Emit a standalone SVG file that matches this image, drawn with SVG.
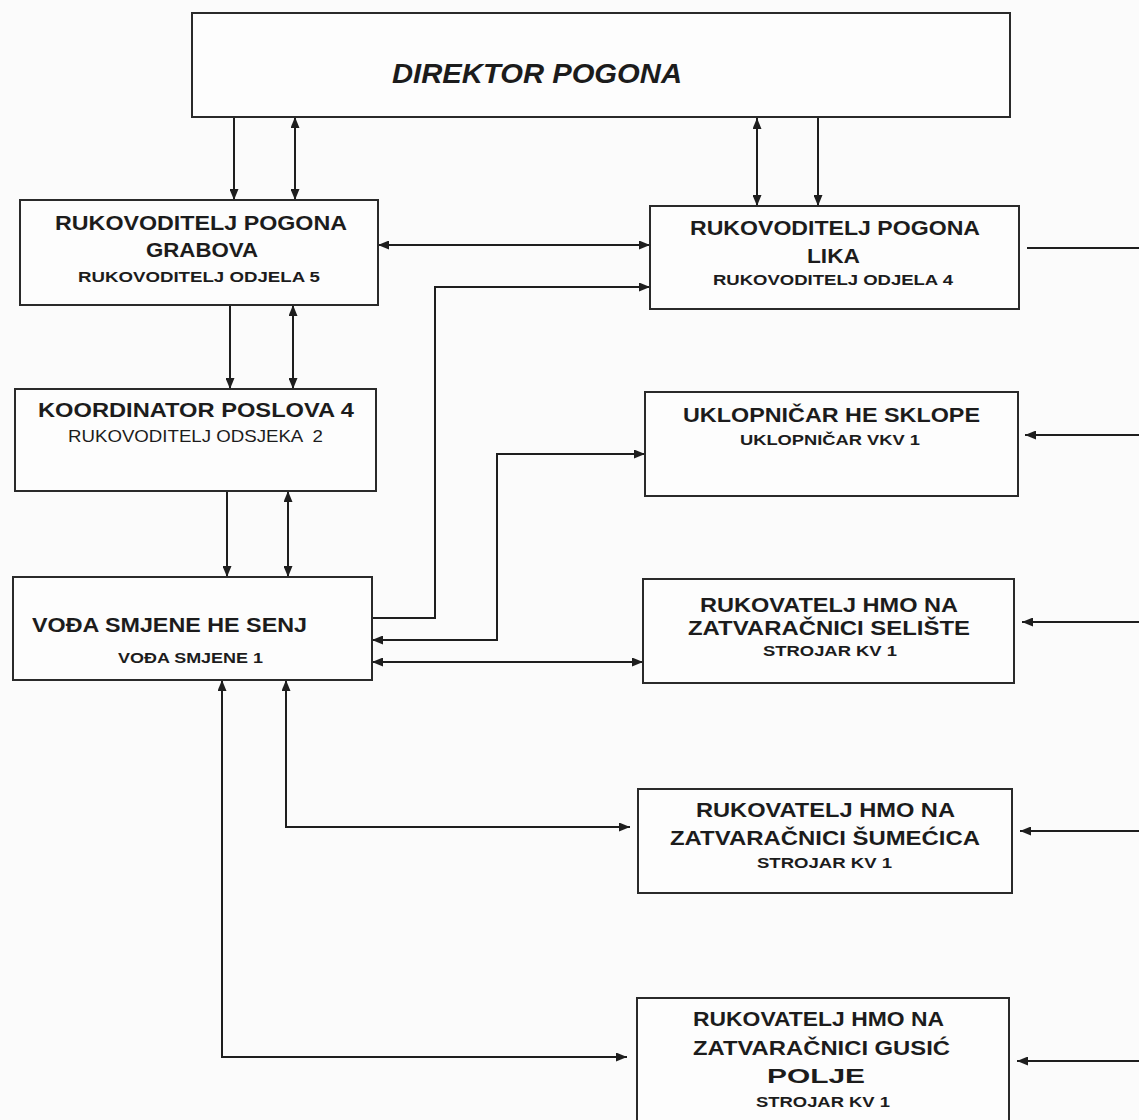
<svg xmlns="http://www.w3.org/2000/svg" width="1139" height="1120" viewBox="0 0 1139 1120">
<defs>
<marker id="ah" viewBox="0 0 11 9" refX="11" refY="4.5" markerWidth="11" markerHeight="9" markerUnits="userSpaceOnUse" orient="auto-start-reverse">
<path d="M0,0 L11,4.5 L0,9 z" fill="#1e1e1e"/>
</marker>
<style>
.box{fill:#fdfdfd;stroke:#2a2a2a;stroke-width:2}
.t{font-family:"Liberation Sans",Arial,sans-serif;font-weight:bold;fill:#1c1c1c}
.big{font-size:21px}
.sm{font-size:15px}
.reg{font-weight:normal;font-size:17px}
.c{fill:none;stroke:#1e1e1e;stroke-width:2}
.e{marker-end:url(#ah)}
.b{marker-start:url(#ah);marker-end:url(#ah)}
</style>
</defs>
<rect width="1139" height="1120" fill="#fbfbfb"/>

<g id="connectors">
<line class="c e" x1="234" y1="117" x2="234" y2="200"/>
<line class="c b" x1="295" y1="117" x2="295" y2="200"/>
<line class="c b" x1="757" y1="118" x2="757" y2="206"/>
<line class="c e" x1="818" y1="118" x2="818" y2="206"/>
<line class="c b" x1="378" y1="245" x2="650" y2="245"/>
<line class="c" x1="1027" y1="248" x2="1139" y2="248"/>
<line class="c e" x1="230" y1="305" x2="230" y2="389"/>
<line class="c b" x1="293" y1="305" x2="293" y2="389"/>
<line class="c e" x1="227" y1="491" x2="227" y2="577"/>
<line class="c b" x1="288" y1="491" x2="288" y2="577"/>
<path class="c e" d="M372,618 H435 V287 H650"/>
<path class="c b" d="M372,640 H497 V454 H645"/>
<line class="c b" x1="372" y1="662" x2="643" y2="662"/>
<path class="c b" d="M286,680 V827 H630"/>
<path class="c b" d="M222,680 V1057 H627"/>
<line class="c e" x1="1139" y1="435" x2="1025" y2="435"/>
<line class="c e" x1="1139" y1="622" x2="1022" y2="622"/>
<line class="c e" x1="1139" y1="831" x2="1020" y2="831"/>
<line class="c e" x1="1139" y1="1061" x2="1017" y2="1061"/>
</g>

<g id="direktor">
<rect class="box" x="192" y="13" width="818" height="104"/>
<text class="t" x="392" y="83" font-size="28" font-style="italic" textLength="290" lengthAdjust="spacingAndGlyphs">DIREKTOR POGONA</text>
</g>

<g id="grabova">
<rect class="box" x="20" y="200" width="358" height="105"/>
<text class="t big" x="55" y="230" textLength="292" lengthAdjust="spacingAndGlyphs">RUKOVODITELJ POGONA</text>
<text class="t big" x="146" y="257" textLength="112" lengthAdjust="spacingAndGlyphs">GRABOVA</text>
<text class="t sm" x="78" y="282" textLength="242" lengthAdjust="spacingAndGlyphs">RUKOVODITELJ ODJELA 5</text>
</g>

<g id="lika">
<rect class="box" x="650" y="206" width="369" height="103"/>
<text class="t big" x="690" y="235" textLength="290" lengthAdjust="spacingAndGlyphs">RUKOVODITELJ POGONA</text>
<text class="t big" x="807" y="263" textLength="53" lengthAdjust="spacingAndGlyphs">LIKA</text>
<text class="t sm" x="713" y="285" textLength="240" lengthAdjust="spacingAndGlyphs">RUKOVODITELJ ODJELA 4</text>
</g>

<g id="koordinator">
<rect class="box" x="15" y="389" width="361" height="102"/>
<text class="t big" x="38" y="417" font-size="22" textLength="316" lengthAdjust="spacingAndGlyphs">KOORDINATOR POSLOVA 4</text>
<text class="t reg" x="68" y="442" style="white-space:pre" textLength="255" lengthAdjust="spacingAndGlyphs">RUKOVODITELJ ODSJEKA  2</text>
</g>

<g id="uklopnicar">
<rect class="box" x="645" y="392" width="373" height="104"/>
<text class="t big" x="683" y="422" textLength="297" lengthAdjust="spacingAndGlyphs">UKLOPNIČAR HE SKLOPE</text>
<text class="t sm" x="740" y="445" textLength="180" lengthAdjust="spacingAndGlyphs">UKLOPNIČAR VKV 1</text>
</g>

<g id="voda">
<rect class="box" x="13" y="577" width="359" height="103"/>
<text class="t big" x="32" y="632" textLength="275" lengthAdjust="spacingAndGlyphs">VOĐA SMJENE HE SENJ</text>
<text class="t sm" x="118" y="663" textLength="145" lengthAdjust="spacingAndGlyphs">VOĐA SMJENE 1</text>
</g>

<g id="seliste">
<rect class="box" x="643" y="579" width="371" height="104"/>
<text class="t big" x="700" y="612" textLength="258" lengthAdjust="spacingAndGlyphs">RUKOVATELJ HMO NA</text>
<text class="t big" x="688" y="635" textLength="282" lengthAdjust="spacingAndGlyphs">ZATVARAČNICI SELIŠTE</text>
<text class="t sm" x="763" y="656" textLength="134" lengthAdjust="spacingAndGlyphs">STROJAR KV 1</text>
</g>

<g id="sumecica">
<rect class="box" x="638" y="789" width="374" height="104"/>
<text class="t big" x="696" y="817" textLength="259" lengthAdjust="spacingAndGlyphs">RUKOVATELJ HMO NA</text>
<text class="t big" x="670" y="845" textLength="310" lengthAdjust="spacingAndGlyphs">ZATVARAČNICI ŠUMEĆICA</text>
<text class="t sm" x="757" y="868" textLength="135" lengthAdjust="spacingAndGlyphs">STROJAR KV 1</text>
</g>

<g id="gusic">
<rect class="box" x="637" y="998" width="372" height="140"/>
<text class="t big" x="693" y="1026" textLength="251" lengthAdjust="spacingAndGlyphs">RUKOVATELJ HMO NA</text>
<text class="t big" x="693" y="1055" textLength="257" lengthAdjust="spacingAndGlyphs">ZATVARAČNICI GUSIĆ</text>
<text class="t big" x="767" y="1083" textLength="98" lengthAdjust="spacingAndGlyphs">POLJE</text>
<text class="t sm" x="756" y="1107" textLength="134" lengthAdjust="spacingAndGlyphs">STROJAR KV 1</text>
</g>
</svg>
